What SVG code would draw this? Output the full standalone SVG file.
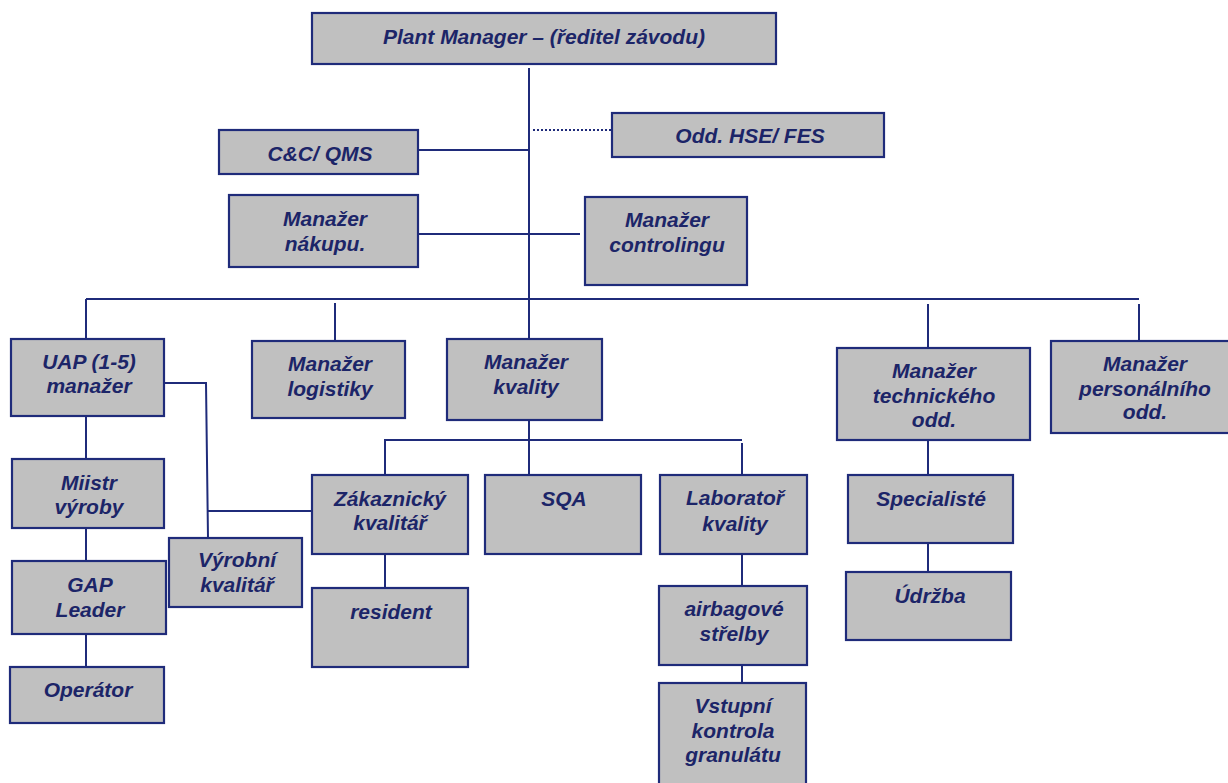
<svg xmlns="http://www.w3.org/2000/svg" width="1228" height="783" viewBox="0 0 1228 783">
  <style>
    .box { fill: #c0c0c0; stroke: #1f2b7a; stroke-width: 2.2; }
    .lbl { font-family: "Liberation Sans", Arial, sans-serif; font-size: 21px; font-weight: bold; font-style: italic; fill: #1c2568; text-anchor: middle; }
    .ln { stroke: #1f2b7a; stroke-width: 2; fill: none; }
    .dot { stroke: #1f2b7a; stroke-width: 2; stroke-dasharray: 2 2; fill: none; }
  </style>
  <rect width="1228" height="783" fill="#ffffff"/>

  <!-- connectors -->
  <g id="connectors">
    <!-- main trunk -->
    <line class="ln" x1="529" y1="68" x2="529" y2="339"/>
    <line class="dot" x1="533" y1="130" x2="611" y2="130"/>
    <line class="ln" x1="418" y1="150" x2="529" y2="150"/>
    <line class="ln" x1="418" y1="234" x2="580" y2="234"/>
    <!-- department bus -->
    <line class="ln" x1="86" y1="299" x2="1139" y2="299"/>
    <line class="ln" x1="86" y1="299" x2="86" y2="339"/>
    <line class="ln" x1="335" y1="303" x2="335" y2="341"/>
    <line class="ln" x1="928" y1="304" x2="928" y2="348"/>
    <line class="ln" x1="1139" y1="304" x2="1139" y2="341"/>
    <!-- production chain -->
    <line class="ln" x1="86" y1="416" x2="86" y2="459"/>
    <line class="ln" x1="86" y1="528" x2="86" y2="561"/>
    <line class="ln" x1="86" y1="634" x2="86" y2="667"/>
    <polyline class="ln" points="164,383 206,383 208,538"/>
    <line class="ln" x1="207" y1="511" x2="312" y2="511"/>
    <!-- quality -->
    <line class="ln" x1="529" y1="420" x2="529" y2="475"/>
    <polyline class="ln" points="385,475 385,440 742,440"/>
    <line class="ln" x1="742" y1="443" x2="742" y2="475"/>
    <line class="ln" x1="385" y1="554" x2="385" y2="588"/>
    <line class="ln" x1="742" y1="554" x2="742" y2="586"/>
    <line class="ln" x1="742" y1="665" x2="742" y2="683"/>
    <!-- technical -->
    <line class="ln" x1="928" y1="440" x2="928" y2="475"/>
    <line class="ln" x1="928" y1="543" x2="928" y2="572"/>
  </g>

  <g id="plant-manager">
    <rect class="box" x="312" y="13" width="464" height="51"/>
    <text class="lbl" x="544" y="44">Plant Manager – (ředitel závodu)</text>
  </g>
  <g id="cc-qms">
    <rect class="box" x="219" y="130" width="199" height="44"/>
    <text class="lbl" x="320" y="161">C&amp;C/ QMS</text>
  </g>
  <g id="hse-fes">
    <rect class="box" x="612" y="113" width="272" height="44"/>
    <text class="lbl" x="750" y="143">Odd. HSE/ FES</text>
  </g>
  <g id="nakup">
    <rect class="box" x="229" y="195" width="189" height="72"/>
    <text class="lbl" x="325" y="226">Manažer</text>
    <text class="lbl" x="325" y="251">nákupu.</text>
  </g>
  <g id="controling">
    <rect class="box" x="585" y="197" width="162" height="88"/>
    <text class="lbl" x="667" y="227">Manažer</text>
    <text class="lbl" x="667" y="252">controlingu</text>
  </g>
  <g id="uap">
    <rect class="box" x="11" y="339" width="153" height="77"/>
    <text class="lbl" x="89" y="369">UAP (1-5)</text>
    <text class="lbl" x="89" y="393">manažer</text>
  </g>
  <g id="logistika">
    <rect class="box" x="252" y="341" width="153" height="77"/>
    <text class="lbl" x="330" y="371">Manažer</text>
    <text class="lbl" x="330" y="396">logistiky</text>
  </g>
  <g id="kvalita">
    <rect class="box" x="447" y="339" width="155" height="81"/>
    <text class="lbl" x="526" y="369">Manažer</text>
    <text class="lbl" x="526" y="394">kvality</text>
  </g>
  <g id="technicke">
    <rect class="box" x="837" y="348" width="193" height="92"/>
    <text class="lbl" x="934" y="378">Manažer</text>
    <text class="lbl" x="934" y="403">technického</text>
    <text class="lbl" x="934" y="427">odd.</text>
  </g>
  <g id="personalni">
    <rect class="box" x="1051" y="341" width="188" height="92"/>
    <text class="lbl" x="1145" y="371">Manažer</text>
    <text class="lbl" x="1145" y="396">personálního</text>
    <text class="lbl" x="1145" y="419">odd.</text>
  </g>
  <g id="mistr">
    <rect class="box" x="12" y="459" width="152" height="69"/>
    <text class="lbl" x="89" y="490">Miistr</text>
    <text class="lbl" x="89" y="514">výroby</text>
  </g>
  <g id="gap-leader">
    <rect class="box" x="12" y="561" width="154" height="73"/>
    <text class="lbl" x="90" y="592">GAP</text>
    <text class="lbl" x="90" y="617">Leader</text>
  </g>
  <g id="operator">
    <rect class="box" x="10" y="667" width="154" height="56"/>
    <text class="lbl" x="88" y="697">Operátor</text>
  </g>
  <g id="vyrobni-kvalitar">
    <rect class="box" x="169" y="538" width="133" height="69"/>
    <text class="lbl" x="237" y="567">Výrobní</text>
    <text class="lbl" x="237" y="592">kvalitář</text>
  </g>
  <g id="zakaznicky-kvalitar">
    <rect class="box" x="312" y="475" width="156" height="79"/>
    <text class="lbl" x="390" y="506">Zákaznický</text>
    <text class="lbl" x="390" y="530">kvalitář</text>
  </g>
  <g id="sqa">
    <rect class="box" x="485" y="475" width="156" height="79"/>
    <text class="lbl" x="564" y="506">SQA</text>
  </g>
  <g id="laborator">
    <rect class="box" x="660" y="475" width="147" height="79"/>
    <text class="lbl" x="735" y="505">Laboratoř</text>
    <text class="lbl" x="735" y="531">kvality</text>
  </g>
  <g id="resident">
    <rect class="box" x="312" y="588" width="156" height="79"/>
    <text class="lbl" x="391" y="619">resident</text>
  </g>
  <g id="airbag">
    <rect class="box" x="659" y="586" width="148" height="79"/>
    <text class="lbl" x="734" y="616">airbagové</text>
    <text class="lbl" x="734" y="641">střelby</text>
  </g>
  <g id="vstupni-kontrola">
    <rect class="box" x="659" y="683" width="147" height="110"/>
    <text class="lbl" x="733" y="713">Vstupní</text>
    <text class="lbl" x="733" y="738">kontrola</text>
    <text class="lbl" x="733" y="762">granulátu</text>
  </g>
  <g id="specialiste">
    <rect class="box" x="848" y="475" width="165" height="68"/>
    <text class="lbl" x="931" y="506">Specialisté</text>
  </g>
  <g id="udrzba">
    <rect class="box" x="846" y="572" width="165" height="68"/>
    <text class="lbl" x="930" y="603">Údržba</text>
  </g>
</svg>
